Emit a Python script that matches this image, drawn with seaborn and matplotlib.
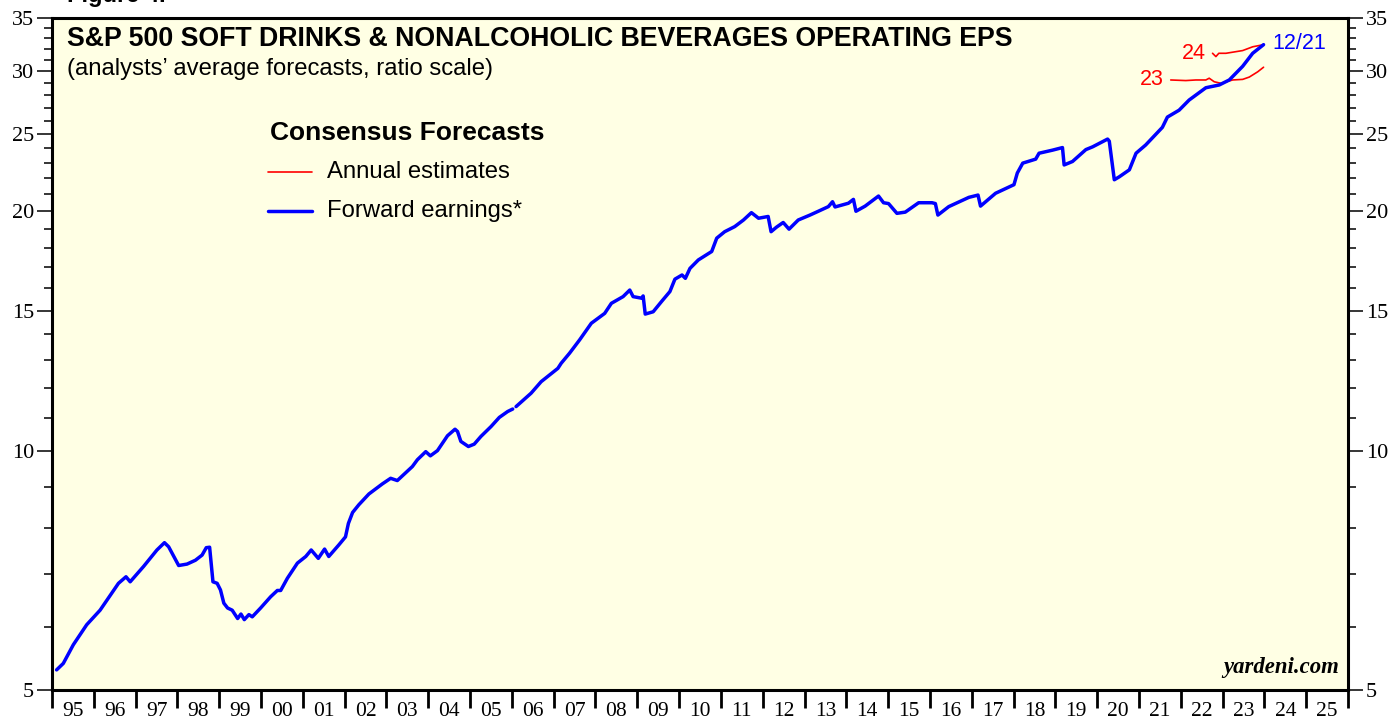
import numpy as np
import pandas as pd
import matplotlib
matplotlib.use("Agg")
import matplotlib.pyplot as plt
import seaborn as sns

# forward earnings (decimal year, EPS)
fwd_year = [1995.11, 1995.27, 1995.51, 1995.83, 1996.15, 1996.59, 1996.77, 1996.87, 1997.19, 1997.51,
            1997.69, 1997.79, 1998.03, 1998.23, 1998.43, 1998.59, 1998.69, 1998.77, 1998.85, 1998.95,
            1999.03, 1999.11, 1999.20, 1999.31, 1999.44, 1999.52, 1999.60, 1999.71, 1999.79, 1999.99,
            2000.23, 2000.39, 2000.47, 2000.63, 2000.87, 2001.07, 2001.20, 2001.37, 2001.52, 2001.62,
            2001.86, 2002.02, 2002.09, 2002.19, 2002.34, 2002.58, 2002.90, 2003.10, 2003.26, 2003.62,
            2003.74, 2003.94, 2004.05, 2004.22, 2004.46, 2004.64, 2004.70, 2004.78, 2004.96, 2005.10,
            2005.26, 2005.50, 2005.70, 2005.90, 2006.02,
            2006.10, 2006.46, 2006.70, 2007.10, 2007.18, 2007.38, 2007.62, 2007.90, 2008.22, 2008.38,
            2008.66, 2008.82, 2008.90, 2009.10, 2009.14, 2009.19, 2009.38, 2009.58, 2009.78, 2009.90,
            2010.07, 2010.15, 2010.26, 2010.46, 2010.78, 2010.90, 2011.09, 2011.33, 2011.54, 2011.73,
            2011.90, 2012.13, 2012.20, 2012.33, 2012.49, 2012.63, 2012.85, 2013.13, 2013.33, 2013.57,
            2013.67, 2013.73, 2014.05, 2014.17, 2014.23, 2014.45, 2014.77, 2014.89, 2015.01, 2015.21,
            2015.41, 2015.73, 2016.05, 2016.13, 2016.19, 2016.45, 2016.93, 2017.15, 2017.21, 2017.57,
            2018.01, 2018.09, 2018.22, 2018.53, 2018.61, 2018.93, 2019.17, 2019.21, 2019.41, 2019.73,
            2019.89, 2020.25, 2020.29, 2020.41, 2020.53, 2020.77, 2020.93, 2021.16, 2021.56, 2021.68,
            2021.96, 2022.20, 2022.60, 2022.92, 2023.16, 2023.48, 2023.72, 2023.98]
fwd_eps = [5.30, 5.40, 5.70, 6.04, 6.30, 6.81, 6.94, 6.84, 7.15, 7.50,
           7.66, 7.57, 7.17, 7.20, 7.28, 7.39, 7.55, 7.56, 6.84, 6.81,
           6.68, 6.43, 6.34, 6.30, 6.15, 6.23, 6.13, 6.22, 6.18, 6.34,
           6.55, 6.67, 6.67, 6.91, 7.22, 7.36, 7.50, 7.32, 7.52, 7.36,
           7.61, 7.79, 8.10, 8.36, 8.55, 8.82, 9.08, 9.23, 9.17, 9.55,
           9.74, 9.97, 9.85, 10.00, 10.44, 10.64, 10.57, 10.27, 10.12, 10.19,
           10.42, 10.72, 11.01, 11.20, 11.28,
           11.36, 11.81, 12.21, 12.69, 12.88, 13.26, 13.78, 14.46, 14.88, 15.32,
           15.62, 15.92, 15.62, 15.55, 15.65, 14.85, 14.95, 15.40, 15.85, 16.43,
           16.63, 16.47, 16.95, 17.37, 17.80, 18.50, 18.85, 19.13, 19.50, 19.92,
           19.60, 19.70, 18.85, 19.10, 19.36, 18.99, 19.50, 19.78, 20.00, 20.27,
           20.56, 20.25, 20.47, 20.70, 20.00, 20.30, 20.90, 20.50, 20.45, 19.88,
           19.95, 20.50, 20.50, 20.45, 19.78, 20.27, 20.82, 20.96, 20.30, 21.07,
           21.60, 22.34, 22.99, 23.26, 23.66, 23.87, 24.05, 22.87, 23.10, 23.91,
           24.10, 24.65, 24.50, 21.91, 22.10, 22.55, 23.66, 24.23, 25.50, 26.27,
           26.80, 27.60, 28.60, 28.83, 29.25, 30.43, 31.60, 32.40]
gap_after = 65  # small break in the series early 2006

# annual consensus estimates
est23_year = [2021.76, 2022.12, 2022.36, 2022.60, 2022.68, 2022.80, 2022.96, 2023.24, 2023.48, 2023.64, 2023.84, 2023.98]
est23_eps = [29.25, 29.20, 29.25, 29.25, 29.40, 29.10, 28.97, 29.25, 29.30, 29.50, 29.95, 30.35]
est24_year = [2022.76, 2022.84, 2022.91, 2023.08, 2023.48, 2023.72, 2023.98]
est24_eps = [31.60, 31.30, 31.60, 31.60, 31.85, 32.20, 32.40]

year_labels = ["95", "96", "97", "98", "99", "00", "01", "02", "03", "04", "05", "06", "07", "08", "09",
               "10", "11", "12", "13", "14", "15", "16", "17", "18", "19", "20", "21", "22", "23", "24", "25"]
y_major = [5, 10, 15, 20, 25, 30, 35]

sns.set_style("white")
plt.rcParams['font.family'] = ['Liberation Sans', 'DejaVu Sans']
plt.rcParams['text.color'] = 'black'
plt.rcParams['xtick.color'] = 'black'
plt.rcParams['ytick.color'] = 'black'

W, H = 1393, 717
fig = plt.figure(figsize=(W / 100, H / 100), dpi=100)
ax = fig.add_axes([52 / W, 1 - 690 / H, (1348 - 52) / W, (690 - 18) / H])
ax.set_facecolor('#FFFFE4')

fwd = pd.DataFrame({'year': fwd_year, 'eps': fwd_eps})
seg1 = fwd.iloc[:gap_after]
seg2 = fwd.iloc[gap_after:]
e23 = pd.DataFrame({'year': est23_year, 'eps': est23_eps})
e24 = pd.DataFrame({'year': est24_year, 'eps': est24_eps})

sns.lineplot(data=e23, x='year', y='eps', color='#FF0000', lw=1.2, estimator=None, sort=False, ax=ax)
sns.lineplot(data=e24, x='year', y='eps', color='#FF0000', lw=1.2, estimator=None, sort=False, ax=ax)
sns.lineplot(data=seg1, x='year', y='eps', color='#0000FF', lw=2.5, estimator=None, sort=False, ax=ax)
sns.lineplot(data=seg2, x='year', y='eps', color='#0000FF', lw=2.5, estimator=None, sort=False, ax=ax)

ax.set_yscale('log')
ax.set_ylim(5, 35)
ax.set_xlim(1995, 2026)
ax.set_xlabel('')
ax.set_ylabel('')

ax.set_yticks(y_major)
ax.set_yticklabels([str(v) for v in y_major])
ax.set_yticks([v for v in range(6, 35) if v % 5 != 0], minor=True)
ax.yaxis.set_minor_formatter(matplotlib.ticker.NullFormatter())
ax.tick_params(axis='y', which='major', direction='out', length=11, width=1.1, pad=2,
               left=True, right=True, labelleft=True, labelright=True, labelsize=16)
ax.tick_params(axis='y', which='minor', direction='out', length=5.5, width=1.1, left=True, right=True)

ax.set_xticks(np.arange(1995, 2027))
ax.set_xticklabels([])
ax.set_xticks(np.arange(1995, 2026) + 0.5, minor=True)
ax.set_xticklabels(year_labels, minor=True)
ax.tick_params(axis='x', which='major', direction='out', length=13, width=2, bottom=True)
ax.tick_params(axis='x', which='minor', length=0, pad=9, labelsize=15.5)

for lab in ax.get_yticklabels() + ax.get_xticklabels(minor=True):
    lab.set_fontfamily('Liberation Serif')

for s in ax.spines.values():
    s.set_linewidth(2.2)
    s.set_color('black')

# text
fig.text(67 / W, 1 - 7 / H, 'Figure 4.', fontsize=17, fontweight='bold', va='bottom')
fig.text(67 / W, 1 - 39 / H, 'S&P 500 SOFT DRINKS & NONALCOHOLIC BEVERAGES OPERATING EPS',
         fontsize=19.3, fontweight='bold', va='center')
fig.text(67 / W, 1 - 69 / H, '(analysts\u2019 average forecasts, ratio scale)', fontsize=17.2, va='center')
fig.text(270 / W, 1 - 133 / H, 'Consensus Forecasts', fontsize=19, fontweight='bold', va='center')
fig.add_artist(plt.Line2D([268 / W, 312 / W], [1 - 172 / H] * 2, color='#FF0000', lw=1.2))
fig.text(327 / W, 1 - 172 / H, 'Annual estimates', fontsize=17.2, va='center')
fig.add_artist(plt.Line2D([268 / W, 312 / W], [1 - 211 / H] * 2, color='#0000FF', lw=2.5))
fig.text(327 / W, 1 - 211 / H, 'Forward earnings*', fontsize=17.2, va='center')

ax.text(2021.6, 29.25, '23', color='#FF0000', fontsize=15.5, ha='right', va='center')
ax.text(2022.6, 31.6, '24', color='#FF0000', fontsize=15.5, ha='right', va='center')
ax.text(2024.2, 32.5, '12/21', color='#0000FF', fontsize=15.5, ha='left', va='center')
ax.text(0.993, 0.018, 'yardeni.com', transform=ax.transAxes, ha='right', va='bottom',
        fontsize=16.4, fontweight='bold', fontstyle='italic', fontfamily='Liberation Serif')

fig.savefig('out.png', dpi=100)
